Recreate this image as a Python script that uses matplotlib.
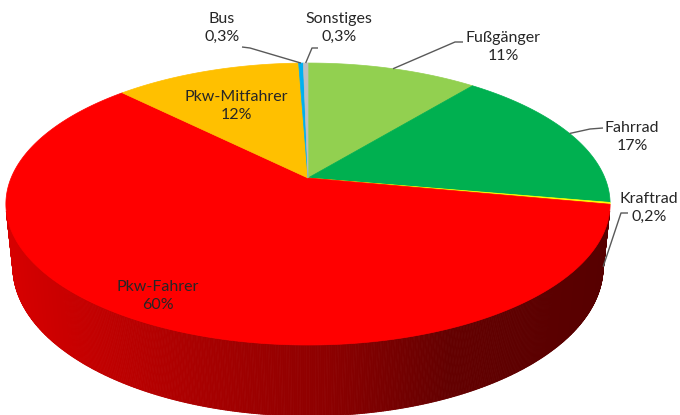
import matplotlib
matplotlib.use("Agg")
import matplotlib.pyplot as plt
import numpy as np
from matplotlib.collections import PolyCollection
from matplotlib.colors import to_rgb

# Data
categories = ["Fußgänger", "Fahrrad", "Kraftrad", "Pkw-Fahrer", "Pkw-Mitfahrer", "Bus", "Sonstiges"]
shares = [11, 17, 0.2, 60, 12, 0.3, 0.3]
colors = ["#92D050", "#00B050", "#FFFF00", "#FF0000", "#FFC000", "#00B0F0", "#BFBFBF"]

# label layout in pixel coords: text centre, leader start, leader elbow, rim height of leader end
label_pos = {
    "Fußgänger": ((503, 47), (463, 42), (455, 42), 0.0),
    "Fahrrad": ((632, 137), (603, 128), (590, 129), 0.0),
    "Kraftrad": ((649, 208), (628, 213), (621, 213), -1.0),
    "Pkw-Fahrer": ((158, 296), None, None, 0.0),
    "Pkw-Mitfahrer": ((236, 106), None, None, 0.0),
    "Bus": ((222, 28), (242, 47), (250, 48), 0.0),
    "Sonstiges": ((339, 28), (318, 48), (312, 48), 0.0),
}

# perspective camera tuned to the Excel 3-D pie
ELEV = np.radians(27.3)
DIST = 4.816
FOCAL = 1430
THICK = 0.24
APEX = (308, 178)
W, H = 680, 415


def project(theta, z=0.0):
    x = np.sin(theta)
    y = np.cos(theta)
    c, s = np.cos(ELEV), np.sin(ELEV)
    depth = DIST + y * c - z * s
    sx = FOCAL * x / depth
    sy = FOCAL * (y * s + z * c) / depth
    return APEX[0] + sx, APEX[1] - sy


def side_shade(px):
    return np.interp(px, [10, 200, 330, 450, 610], [0.84, 0.66, 0.55, 0.39, 0.34])


fig = plt.figure(figsize=(W / 100, H / 100), dpi=100)
ax = fig.add_axes([0, 0, 1, 1])
ax.set_xlim(0, W)
ax.set_ylim(H, 0)
ax.axis("off")

total = sum(shares)
bounds = 2 * np.pi * np.concatenate([[0], np.cumsum(shares)]) / total

# visible (front facing) part of the outer wall
t_lim = np.arccos(-1 / (DIST * np.cos(ELEV)))
t_min, t_max = t_lim, 2 * np.pi - t_lim

side_polys, side_cols = [], []
for a0, a1, col in zip(bounds[:-1], bounds[1:], colors):
    lo, hi = max(a0, t_min), min(a1, t_max)
    if hi <= lo:
        continue
    ts = np.linspace(lo, hi, max(3, int((hi - lo) * 200)))
    base = np.array(to_rgb(col))
    for t0, t1 in zip(ts[:-1], ts[1:]):
        p = [project(t0), project(t1), project(t1, -THICK), project(t0, -THICK)]
        side_polys.append(p)
        xm = (p[0][0] + p[1][0]) / 2
        side_cols.append(np.clip(base * side_shade(xm), 0, 1))

ax.add_collection(PolyCollection(side_polys, facecolors=side_cols,
                                 edgecolors=side_cols, linewidths=0.6))

# top face
for a0, a1, col in zip(bounds[:-1], bounds[1:], colors):
    ts = np.linspace(a0, a1, max(3, int((a1 - a0) * 120)))
    xs, ys = project(ts)
    pts = [APEX] + list(zip(xs, ys))
    ax.add_patch(plt.Polygon(pts, closed=True, facecolor=col, edgecolor=col, linewidth=0.5))

# labels and leader lines
for cat, val, a0, a1 in zip(categories, shares, bounds[:-1], bounds[1:]):
    (tx, ty), start, elbow, zrim = label_pos[cat]
    pct = f"{val:g}".replace(".", ",") + "%"
    ax.text(tx, ty, f"{cat}\n{pct}", ha="center", va="center", fontsize=11.5,
            family=["Lato", "DejaVu Sans"], color="#262626", linespacing=1.35)
    if start is not None:
        ex, ey = project((a0 + a1) / 2, zrim * THICK)
        ax.plot([start[0], elbow[0], ex], [start[1], elbow[1], ey],
                color="#595959", lw=1, solid_capstyle="butt")

fig.savefig("out.png", dpi=100)
